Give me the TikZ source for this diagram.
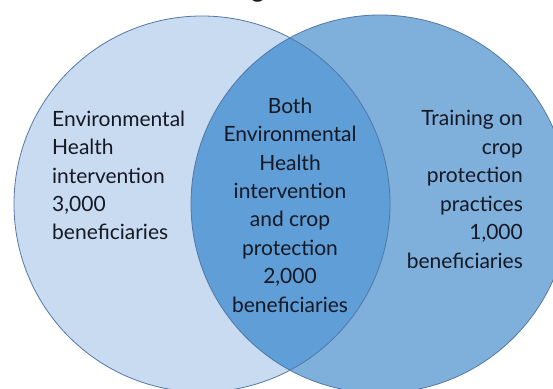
\documentclass[tikz,border=0pt]{standalone}
\usepackage{fontspec}
\setmainfont{Lato}
\usetikzlibrary{positioning}

\definecolor{envfill}{RGB}{201,219,240}
\definecolor{cropfill}{RGB}{126,176,219}
\definecolor{bothfill}{RGB}{95,158,214}
\definecolor{ringline}{RGB}{84,120,165}
\definecolor{inkdark}{RGB}{22,24,36}

\begin{document}
\begin{tikzpicture}[x=1pt, y=1pt,
  ring/.style={draw=ringline, line width=0.8pt},
  every node/.style={inner sep=0pt, text=inkdark, font=\fontsize{21}{28.4}\selectfont}]
  \useasboundingbox (0,0) rectangle (553,388);
  \coordinate (env) at (202,184);
  \coordinate (crop) at (380,184);
  % the two sets and their overlap
  \fill[envfill] (env) circle[radius=188];
  \fill[cropfill] (crop) circle[radius=189];
  \begin{scope}
    \clip (env) circle[radius=188];
    \fill[bothfill] (crop) circle[radius=189];
  \end{scope}
  \path[ring] (env) circle[radius=188];
  \path[ring] (crop) circle[radius=189];
  % labels, placed by the baseline of their last line
  \node[anchor=base west, align=left] (envtext) at (52,148)
    {Environmental\\Health\\intervention\\3,000\\beneficiaries};
  \node[anchor=base, align=center] (bothtext) at (290,76)
    {Both\\Environmental\\Health\\intervention\\and crop\\protection\\2,000\\beneficiaries};
  \node[anchor=base east, align=right] (croptext) at (523,120)
    {Training on\\crop\\protection\\practices\\1,000\\beneficiaries};
  \node[anchor=base, font=\fontsize{26}{30}\selectfont] (title) at (258,390) {g};
\end{tikzpicture}
\end{document}
